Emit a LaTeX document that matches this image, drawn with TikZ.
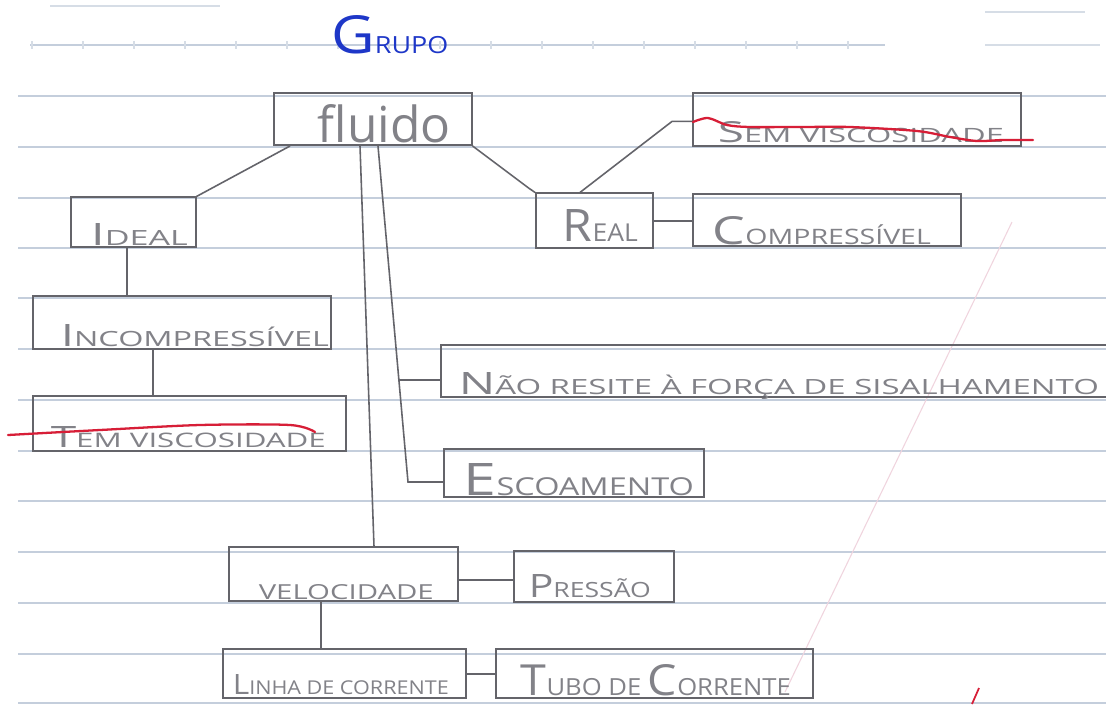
\documentclass[tikz,border=0pt]{standalone}
\usepackage{fontspec}
\setmainfont{Open Sans}
\usepackage{graphicx}
\usetikzlibrary{calc}
\newlength\pxu \setlength\pxu{0.02cm}
\newcommand\boxtxt[5]{\makebox[#1\pxu][l]{\hspace*{#2\pxu}\resizebox{#3\pxu}{#4\pxu}{#5}}}
\newcommand\hwt[3][0.68]{#2\scalebox{#1}{#3}}
\definecolor{pencil}{RGB}{100,100,106}
\definecolor{pencilText}{RGB}{130,130,136}
\definecolor{paper}{RGB}{196,206,220}
\definecolor{redpen}{RGB}{215,30,55}
\definecolor{bluepen}{RGB}{30,55,200}
\definecolor{pinkfaint}{RGB}{240,212,222}
\begin{document}
\begin{tikzpicture}[x=0.02cm,y=-0.02cm,
  box/.style={draw=pencil, line width=0.9pt, inner sep=0pt, anchor=south west, text=pencilText},
  conn/.style={draw=pencil, line width=0.9pt},
  ruled/.style={draw=paper, line width=0.7pt},
  faint/.style={draw=paper!70, line width=0.6pt},
  strike/.style={draw=redpen, line width=1.3pt, line cap=round, line join=round}]
\useasboundingbox (0,0) rectangle (1106,704);
\clip (0,0) rectangle (1106,704);
\fill[white] (0,0) rectangle (1106,704);
% lined paper
\foreach \yy in {96,147,198,248,298,349,400,451,501,552,603,654,703}
  \draw[ruled] (18,\yy) -- (1106,\yy);
\draw[ruled] (30,45) -- (885,45);
\foreach \xx in {32,83,...,880} \draw[faint] (\xx,41) -- (\xx,49);
\draw[faint] (985,45) -- (1100,45);
\draw[faint] (50,6) -- (220,6);
\draw[faint] (985,12) -- (1085,12);
\draw[pinkfaint, line width=0.6pt] (1012,222) -- (785,692);
% title
\node[anchor=south west, inner sep=0pt, text=bluepen] (grupo) at (331,54)
  {\resizebox{117\pxu}{38\pxu}{\hwt[0.45]{G}{RUPO}}};
% boxes
\node[box, text height=0.98cm, text depth=0.06cm] (fluido) at (273,146)
  {\boxtxt{198}{44}{133}{38}{fluido}};
\node[box, text height=0.98cm, text depth=0.08cm] (semv) at (692,147)
  {\boxtxt{328}{25}{286}{21}{\hwt{S}{EM VISCOSIDADE}}};
\node[box, text height=0.96cm, text depth=0.04cm] (ideal) at (70,248)
  {\boxtxt{125}{20}{97}{22}{\hwt{I}{DEAL}}};
\node[box, text height=0.96cm, text depth=0.14cm] (real) at (535,249)
  {\boxtxt{117}{27}{75}{32}{\hwt[0.55]{R}{EAL}}};
\node[box, text height=1.00cm, text depth=0.04cm] (comp) at (692,247)
  {\boxtxt{268}{20}{218}{28}{\hwt[0.55]{C}{OMPRESSÍVEL}}};
\node[box, text height=1.00cm, text depth=0.06cm] (incomp) at (32,350)
  {\boxtxt{298}{28}{268}{22}{\hwt{I}{NCOMPRESSÍVEL}}};
\node[box, text height=0.98cm, text depth=0.06cm] (naore) at (440,398)
  {\boxtxt{675}{18}{640}{22}{\hwt{N}{ÃO RESITE À FORÇA DE SISALHAMENTO}}};
\node[box, text height=1.02cm, text depth=0.08cm] (temv) at (32,452)
  {\boxtxt{313}{18}{275}{21}{\hwt{T}{EM VISCOSIDADE}}};
\node[box, text height=0.92cm, text depth=0.04cm] (escoa) at (443,498)
  {\boxtxt{260}{20}{230}{32}{\hwt[0.55]{E}{SCOAMENTO}}};
\node[box, text height=1.04cm, text depth=0.04cm] (veloc) at (228,602)
  {\boxtxt{229}{30}{175}{15}{VELOCIDADE}};
\node[box, text height=0.92cm, text depth=0.10cm] (press) at (513,603)
  {\boxtxt{160}{15}{122}{23}{\hwt[0.65]{P}{RESSÃO}}};
\node[box, text height=0.90cm, text depth=0.08cm] (linha) at (222,699)
  {\boxtxt{243}{10}{216}{20}{\hwt{L}{INHA DE CORRENTE}}};
\node[box, text height=0.92cm, text depth=0.06cm] (tubo) at (495,699)
  {\boxtxt{317}{25}{270}{31}{\hwt[0.55]{T}{UBO DE }C\scalebox{0.55}{ORRENTE}}};
% strike-throughs
\draw[strike] plot[smooth] coordinates {(693,122) (708,118) (727,125) (750,127) (800,127) (850,127) (917,131) (950,137) (977,141) (1003,140) (1033,140)};
\draw[strike] plot[smooth] coordinates {(8,435) (100,430) (200,425) (290,425) (315,432)};
\draw[redpen, line width=1pt] (972,704) -- (979,688);
% connectors
\draw[conn] ($(fluido.south west)+(17,0)$) -- (ideal.north east);
\draw[conn] (fluido.south east) -- ++(56,42) -- (real.north west);
\draw[conn] ($(real.north west)+(45,0)$) -- ($(semv.north west)+(-20,29)$) -- ($(semv.north west)+(0,29)$);
\draw[conn] (real.east) -- (real.east -| comp.west);
\draw[conn] ($(ideal.south west)+(57,0)$) coordinate (i1) -- (i1 |- incomp.north);
\draw[conn] ($(incomp.south west)+(121,0)$) coordinate (i2) -- (i2 |- temv.north);
\draw[conn] ($(fluido.south west)+(87,0)$) -- ($(veloc.north west)+(146,0)$);
\coordinate (fl2) at ($(fluido.south west)+(105,0)$);
\coordinate (bend) at ($(escoa.south west)+(-35,-16)$);
\draw[conn] (fl2) -- (bend) -- (bend -| escoa.west);
\coordinate (j2) at ($(fl2)!0.696!(bend)$);
\draw[conn] (j2) -- (j2 -| naore.west);
\draw[conn] ($(veloc.south east)+(0,-22)$) coordinate (v1) -- (v1 -| press.west);
\draw[conn] ($(veloc.south west)+(93,0)$) coordinate (v2) -- (v2 |- linha.north);
\draw[conn] (linha.east) -- (linha.east -| tubo.west);
\end{tikzpicture}
\end{document}
